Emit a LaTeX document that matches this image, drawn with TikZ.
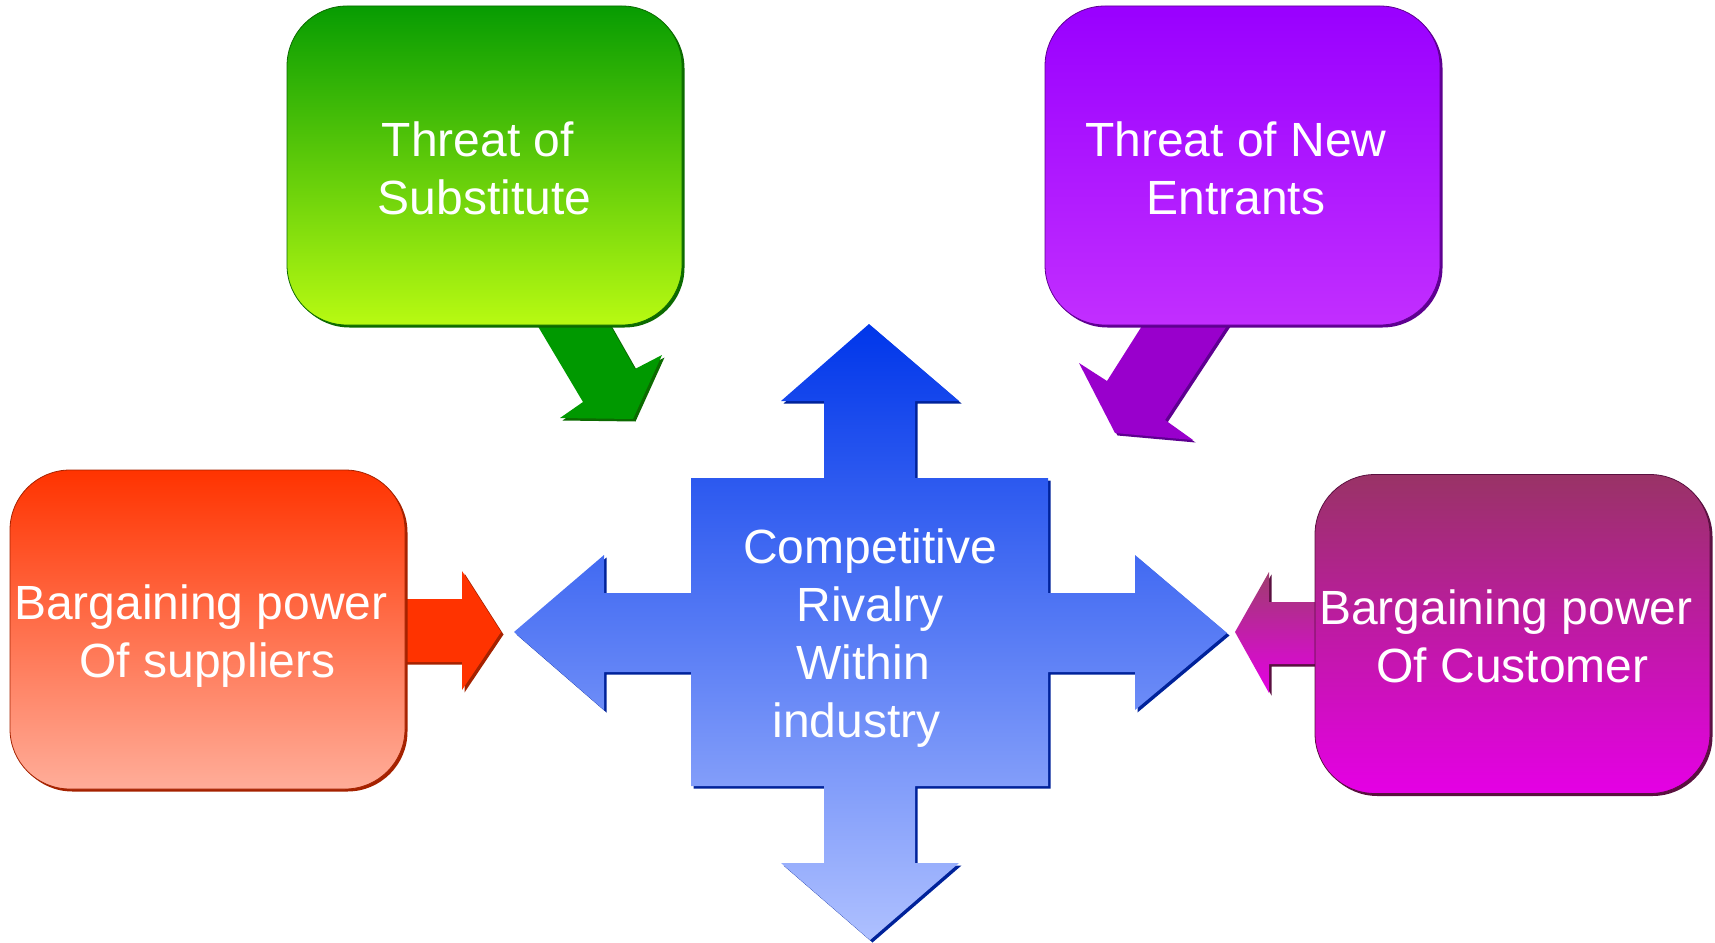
\documentclass[tikz,border=0pt]{standalone}
\usepackage{fontspec}
\setmainfont{Liberation Sans}
\usetikzlibrary{shapes,shadows,positioning}
\definecolor{subtop}{HTML}{079C02}
\definecolor{subbot}{HTML}{B8FA12}
\definecolor{subdark}{HTML}{0B6A00}
\definecolor{subarrow}{HTML}{009900}
\definecolor{enttop}{HTML}{9900FF}
\definecolor{entbot}{HTML}{C22EFF}
\definecolor{entdark}{HTML}{5E0090}
\definecolor{entarrow}{HTML}{9900CC}
\definecolor{suptop}{HTML}{FF3300}
\definecolor{supbot}{HTML}{FFAD99}
\definecolor{supdark}{HTML}{A52200}
\definecolor{custop}{HTML}{993366}
\definecolor{cusbot}{HTML}{E500E5}
\definecolor{cusdark}{HTML}{5A1040}
\definecolor{rivtop}{HTML}{0036EA}
\definecolor{rivbot}{HTML}{AEC0FF}
\definecolor{rivdark}{HTML}{00229A}
\newcommand{\trail}{\hspace*{.278em}}
\tikzset{force box/.style={rectangle, rounded corners=60pt, minimum width=395pt, minimum height=319pt, text=white, align=center, font=\fontsize{48}{58}\selectfont, line width=0.8pt}}
\tikzset{force shadow/.style={drop shadow={shadow xshift=2.5pt, shadow yshift=-2.5pt, opacity=1, fill=#1}}}
\tikzset{rival text/.style={text=white, align=center, font=\fontsize{48}{58}\selectfont}}

\begin{document}
\begin{tikzpicture}[x=1pt, y=-1pt]
\useasboundingbox (0,0) rectangle (1715,942);
% arrows out of the boxes
\fill[subarrow, force shadow=subdark] (533,318) -- (583,402) -- (560,418) -- (633,419) -- (662,355) -- (635,369) -- (606,318) -- cycle;
\fill[entarrow, force shadow=entdark] (1147,318) -- (1107,381) -- (1079,363) -- (1115,433) -- (1193,440) -- (1165,420) -- (1232,318) -- cycle;
\fill[suptop, force shadow=supdark] (398,599) -- (462,599) -- (462,571) -- (501,632) -- (462,690) -- (462,662) -- (398,662) -- cycle;
\shade[top color=custop!95!white, bottom color=cusbot, force shadow=cusdark] (1322,602) -- (1269,602) -- (1269,572) -- (1235,632) -- (1269,693) -- (1269,664) -- (1322,664) -- cycle;
% the cross
\shade[top color=rivtop, bottom color=rivbot, force shadow=rivdark] (869,324) -- (959,401) -- (915,401) -- (915,478) -- (1048,478) -- (1048,593) -- (1135,593) -- (1135,555) -- (1227,633) -- (1135,710) -- (1135,672) -- (1048,672) -- (1048,786) -- (915,786) -- (915,863) -- (959,863) -- (870,940) -- (781,863) -- (824,863) -- (824,786) -- (691,786) -- (691,672) -- (604,672) -- (604,710) -- (514,632) -- (604,555) -- (604,593) -- (691,593) -- (691,478) -- (824,478) -- (824,401) -- (781,401) -- cycle;
\node[rival text] (rivalry) at (870,638) {Competitive\\Rivalry\\Within\trail\trail\\industry\trail\trail};
% the four forces
\node[force box, draw=subdark, top color=subtop, bottom color=subbot, force shadow=subdark, text height=98pt] (substitute) at (484.5,165.5) {Threat of\trail\\Substitute};
\node[force box, draw=entdark, top color=enttop, bottom color=entbot, force shadow=entdark, text height=98pt] (entrants) at (1242.5,165.5) {Threat of New\trail\\Entrants\trail};
\node[force box, draw=supdark, top color=suptop, bottom color=supbot, force shadow=supdark, text height=106.5pt] (suppliers) at (207.5,629.5) {Bargaining power\trail\\Of suppliers};
\node[force box, draw=cusdark, top color=custop, bottom color=cusbot, force shadow=cusdark, text height=98pt] (customer) at (1512.5,634) {Bargaining power\trail\\Of Customer};
\end{tikzpicture}
\end{document}
